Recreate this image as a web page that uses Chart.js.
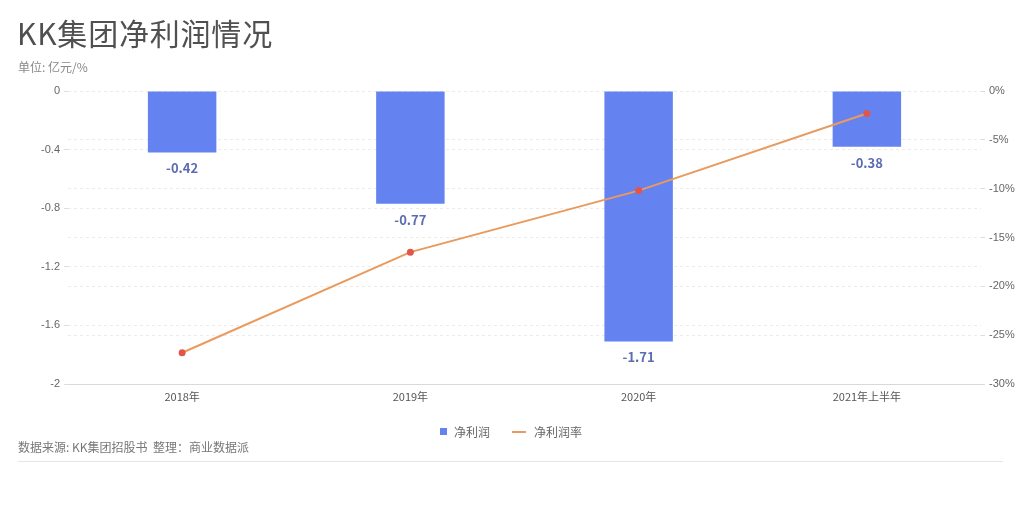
<!DOCTYPE html>
<html><head><meta charset="utf-8">
<script src="https://cdn.jsdelivr.net/npm/chart.js@4"></script>
<style>
html,body{margin:0;padding:0;background:#fff;width:1024px;height:512px;overflow:hidden;font-family:"Noto Sans CJK SC","Noto Sans",sans-serif;}
#wrap{position:absolute;left:0;top:0;width:1024px;height:512px;}
.t{position:absolute;white-space:nowrap;}
#title{left:17px;top:10px;font-size:30px;color:#505050;letter-spacing:0.8px;font-weight:400;}
#unit{left:18px;top:58px;font-size:12px;color:#888;}
#src{left:18px;top:438px;font-size:12px;color:#777;}
#rule{position:absolute;left:18px;top:461px;width:985px;height:1px;background:#e6e6e6;}
#legend{left:440px;top:421px;font-size:12px;color:#666;}
#legend span{display:inline-block;vertical-align:middle;}
</style></head>
<body>
<div id="wrap"><canvas id="c" width="1024" height="512"></canvas></div>
<div class="t" id="title">KK集团净利润情况</div>
<div class="t" id="unit">单位: 亿元/%</div>
<div class="t" id="legend"><span style="width:7px;height:7px;background:#6483f1;margin-right:7px"></span><span>净利润</span><span style="width:14px;height:2px;background:#e99a5c;margin:0 8px 0 22px"></span><span>净利润率</span></div>
<div class="t" id="src">数据来源: KK集团招股书&nbsp;&nbsp;整理：商业数据派</div>
<div id="rule"></div>
<script>
const categories = ["2018年", "2019年", "2020年", "2021年上半年"];
const netProfit = [-0.42, -0.77, -1.71, -0.38];
const netMargin = [-26.8, -16.5, -10.2, -2.3];
const leftTicks = [0, -0.4, -0.8, -1.2, -1.6, -2];
const rightTicks = [0, -5, -10, -15, -20, -25, -30];

const labelPlugin = {
  id: 'barLabels',
  afterDatasetsDraw(chart) {
    const ctx = chart.ctx;
    const meta = chart.getDatasetMeta(1);
    ctx.save();
    ctx.font = 'bold 13px "Noto Sans CJK SC", "Noto Sans", sans-serif';
    ctx.fillStyle = '#5a6cb2';
    ctx.textAlign = 'center';
    ctx.textBaseline = 'middle';
    meta.data.forEach((el, i) => {
      ctx.fillText(netProfit[i].toFixed(2), el.x, el.y + 16);
    });
    ctx.restore();
  }
};

new Chart(document.getElementById('c'), {
  data: {
    labels: categories,
    datasets: [
      { type: 'line', label: '净利润率', data: netMargin, yAxisID: 'y1', borderColor: '#e99a5c', borderWidth: 2, pointRadius: 2.5, pointBackgroundColor: '#e0564a', pointBorderColor: '#e0564a', tension: 0, order: 0 },
      { type: 'bar', label: '净利润', data: netProfit, yAxisID: 'y', backgroundColor: '#6483f1', barPercentage: 0.3, categoryPercentage: 1.0, order: 1 }
    ]
  },
  options: {
    responsive: false,
    animation: false,
    layout: { padding: { top: 91, bottom: 98, left: 0, right: 0 } },
    plugins: { legend: { display: false }, tooltip: { enabled: false } },
    scales: {
      x: {
        grid: { display: false, drawTicks: false },
        border: { display: true, color: '#d9d9d9' },
        ticks: { color: '#555', font: { size: 11, family: '"Noto Sans CJK SC", sans-serif' }, padding: 6 },
        afterFit(s) { s.height = 30; }
      },
      y: {
        position: 'left', min: -2, max: 0,
        afterBuildTicks(s) { s.ticks = leftTicks.map(v => ({ value: v })); },
        ticks: { color: '#666', font: { size: 11 }, padding: 4, callback: v => String(Math.round(v * 10) / 10) },
        grid: { color: '#ebebeb', tickLength: 4, tickColor: '#ddd' },
        border: { display: false, dash: [3, 3] },
        afterFit(s) { s.width = 68; }
      },
      y1: {
        position: 'right', min: -30, max: 0,
        afterBuildTicks(s) { s.ticks = rightTicks.map(v => ({ value: v })); },
        ticks: { color: '#666', font: { size: 11 }, padding: 4, callback: v => v + '%' },
        grid: { color: '#ebebeb', tickLength: 4, tickColor: '#ddd' },
        border: { display: false, dash: [3, 3] },
        afterFit(s) { s.width = 43; }
      }
    }
  },
  plugins: [labelPlugin]
});
</script>
</body></html>
